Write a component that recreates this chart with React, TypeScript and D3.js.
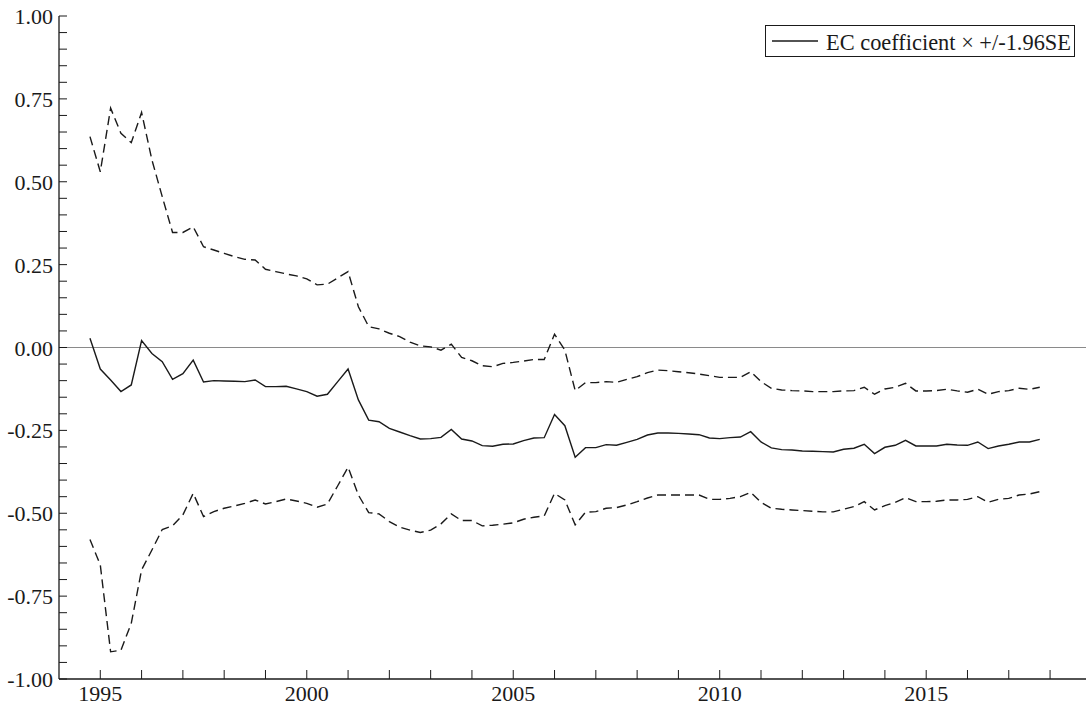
import React from "react";
import * as d3 from "d3";

// quarterly observations, 1994Q4 .. 2017Q4
const quarters: number[] = d3.range(0, 93).map((i) => 1994.75 + i * 0.25);

const coef = [
  0.028,
  -0.065, -0.098, -0.133, -0.113,
  0.021, -0.018, -0.043, -0.096,
  -0.079, -0.038, -0.104, -0.1,
  -0.101, -0.102, -0.103, -0.098,
  -0.118, -0.118, -0.117, -0.125,
  -0.133, -0.147, -0.141, -0.103,
  -0.065, -0.158, -0.219, -0.224,
  -0.244, -0.255, -0.266, -0.276,
  -0.275, -0.271, -0.247, -0.276,
  -0.282, -0.296, -0.298, -0.292,
  -0.291, -0.281, -0.273, -0.272,
  -0.202, -0.236, -0.331, -0.302,
  -0.302, -0.293, -0.295, -0.286,
  -0.277, -0.264, -0.258, -0.258,
  -0.259, -0.261, -0.263, -0.273,
  -0.275, -0.272, -0.27, -0.254,
  -0.285, -0.303, -0.308, -0.309,
  -0.312, -0.313, -0.314, -0.315,
  -0.307, -0.304, -0.292, -0.32,
  -0.301, -0.295, -0.28, -0.297,
  -0.297, -0.297, -0.292, -0.294,
  -0.295, -0.285, -0.305, -0.297,
  -0.292, -0.285, -0.285, -0.277,
];

const upper = [
  0.636,
  0.53, 0.722, 0.646, 0.618,
  0.709, 0.566, 0.455, 0.347,
  0.347, 0.364, 0.304, 0.294,
  0.284, 0.274, 0.266, 0.264,
  0.236, 0.229, 0.222, 0.216,
  0.207, 0.189, 0.191, 0.21,
  0.229, 0.123, 0.063, 0.056,
  0.043, 0.033, 0.016, 0.005,
  0.002, -0.008, 0.01, -0.03,
  -0.04, -0.055, -0.058, -0.048,
  -0.045, -0.041, -0.036, -0.036,
  0.04, -0.008, -0.13, -0.106,
  -0.106, -0.103, -0.105, -0.096,
  -0.088, -0.076, -0.068, -0.07,
  -0.073, -0.076, -0.08, -0.085,
  -0.09, -0.09, -0.09, -0.073,
  -0.103, -0.123, -0.128, -0.13,
  -0.131, -0.133, -0.133, -0.133,
  -0.131, -0.13, -0.12, -0.141,
  -0.125, -0.12, -0.108, -0.131,
  -0.131, -0.13, -0.126, -0.131,
  -0.135, -0.126, -0.141, -0.133,
  -0.13, -0.123, -0.126, -0.12,
];

const lower = [
  -0.579,
  -0.656, -0.918, -0.913, -0.832,
  -0.671, -0.611, -0.549, -0.538,
  -0.505, -0.44, -0.51, -0.495,
  -0.485, -0.478, -0.47, -0.46,
  -0.472, -0.465, -0.457, -0.463,
  -0.47, -0.482, -0.472, -0.417,
  -0.361, -0.445, -0.498, -0.502,
  -0.525, -0.542, -0.551, -0.558,
  -0.551, -0.532, -0.502, -0.522,
  -0.522, -0.538, -0.536, -0.533,
  -0.529, -0.518, -0.512, -0.508,
  -0.44, -0.46, -0.535, -0.497,
  -0.495, -0.485, -0.483, -0.475,
  -0.465, -0.454, -0.445, -0.445,
  -0.445, -0.445, -0.445, -0.458,
  -0.458, -0.455, -0.45, -0.437,
  -0.467, -0.485, -0.488, -0.49,
  -0.492, -0.494, -0.496, -0.496,
  -0.488, -0.48, -0.465, -0.49,
  -0.477, -0.467, -0.453, -0.465,
  -0.465, -0.464, -0.46, -0.46,
  -0.458, -0.45, -0.467, -0.458,
  -0.455, -0.445, -0.442, -0.435,
];

const yLabels = [-1, -0.75, -0.5, -0.25, 0, 0.25, 0.5, 0.75, 1];
const xLabels = [1995, 2000, 2005, 2010, 2015];
const legendText = "EC coefficient \u00d7 +/-1.96SE";

const W = 1086;
const H = 709;
const left = 59;
const bottom = 679;
const top = 16;
const font = "'Liberation Serif', 'Times New Roman', serif";
const ink = "#1a1a1a";

export default function App() {
  const x = d3.scaleLinear().domain([1994, 2018.87]).range([left, W]);
  const y = d3.scaleLinear().domain([-1, 1]).range([bottom, top]);

  const mk = (vals: number[]) =>
    d3
      .line<number>()
      .x((_, i) => x(quarters[i]))
      .y((v) => y(v))(vals) as string;

  const minorY = d3.range(-100, 101, 5).map((v) => v / 100);
  const yearTicks = d3.range(1995, 2019);

  return (
    <svg
      width={W}
      height={H}
      style={{ position: "absolute", left: 0, top: 0, background: "#fff" }}
    >
      {/* zero line */}
      <line x1={left} x2={W} y1={y(0)} y2={y(0)} stroke="#8a8a8a" strokeWidth={1} />

      {/* axes */}
      <line x1={left} x2={left} y1={top} y2={bottom} stroke={ink} strokeWidth={1.3} />
      <line x1={left} x2={W} y1={bottom} y2={bottom} stroke={ink} strokeWidth={1.3} />

      {minorY.map((v, i) => (
        <line key={"ym" + i} x1={left} x2={left + 8} y1={y(v)} y2={y(v)} stroke={ink} strokeWidth={1} />
      ))}
      {yLabels.map((v) => (
        <text
          key={"yl" + v}
          x={left - 6}
          y={y(v) + 8}
          textAnchor="end"
          fontFamily={font}
          fontSize={22}
          fill={ink}
        >
          {v.toFixed(2)}
        </text>
      ))}

      {yearTicks.map((t) => (
        <line key={"xt" + t} x1={x(t)} x2={x(t)} y1={bottom} y2={bottom - 9} stroke={ink} strokeWidth={1} />
      ))}
      {xLabels.map((t) => (
        <text
          key={"xl" + t}
          x={x(t)}
          y={bottom + 22}
          textAnchor="middle"
          fontFamily={font}
          fontSize={22}
          fill={ink}
        >
          {t}
        </text>
      ))}

      {/* series */}
      <path d={mk(upper)} fill="none" stroke={ink} strokeWidth={1.4} strokeDasharray="9,5" />
      <path d={mk(lower)} fill="none" stroke={ink} strokeWidth={1.4} strokeDasharray="9,5" />
      <path d={mk(coef)} fill="none" stroke={ink} strokeWidth={1.4} />

      {/* legend */}
      <rect x={765.5} y={25.5} width={309} height={31} fill="#fff" stroke={ink} strokeWidth={1} />
      <line x1={772} x2={818} y1={41} y2={41} stroke={ink} strokeWidth={1.3} />
      <text
        x={826}
        y={49.5}
        fontFamily={font}
        fontSize={22.5}
        fill={ink}
        textLength={245}
        lengthAdjust="spacingAndGlyphs"
      >
        {legendText}
      </text>
    </svg>
  );
}
